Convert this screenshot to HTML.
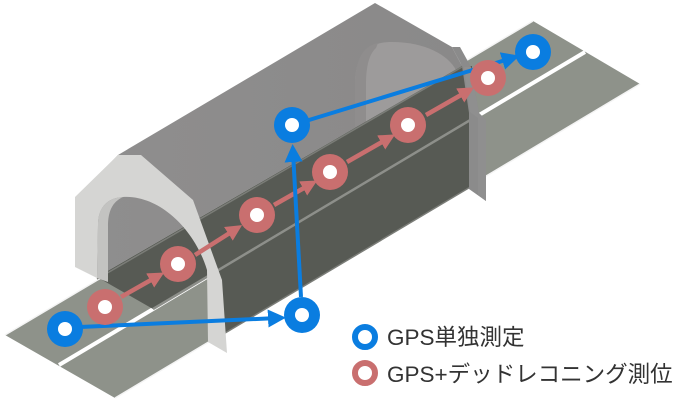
<!DOCTYPE html>
<html><head><meta charset="utf-8"><style>
html,body{margin:0;padding:0;background:#fff;}
svg{display:block;}
text{font-family:"Liberation Sans","Noto Sans CJK JP",sans-serif;}
</style></head><body>
<svg width="690" height="400" viewBox="0 0 690 400" xmlns="http://www.w3.org/2000/svg">
<defs>
<linearGradient id="roof" x1="0" y1="0" x2="1" y2="0">
<stop offset="0" stop-color="#8f8e8e"/><stop offset="1" stop-color="#8a8989"/>
</linearGradient>
<marker id="ar" markerWidth="3.6" markerHeight="3.6" refX="2" refY="1.8" orient="auto" markerUnits="strokeWidth">
<path d="M0,0 L3.6,1.8 L0,3.6 Z" fill="#c96f6f"/></marker>
<marker id="ab" markerWidth="4.5" markerHeight="4.5" refX="2.5" refY="2.25" orient="auto" markerUnits="strokeWidth">
<path d="M0,0 L4.5,2.25 L0,4.5 Z" fill="#0a7de0"/></marker>
</defs>
<rect width="690" height="400" fill="#fff"/>
<!-- road -->
<polygon points="5,335 533,21 640,84 115,398" fill="#8e928a"/>
<line x1="5" y1="335" x2="533" y2="21" stroke="#f4f4f4" stroke-width="1.5"/>
<line x1="115" y1="398" x2="640" y2="84" stroke="#f4f4f4" stroke-width="1.5"/>
<line x1="59" y1="365" x2="585" y2="52" stroke="#fff" stroke-width="4"/>
<!-- roof -->
<polygon points="118,155 375,3 452,47 462,66 97,277 75,200" fill="url(#roof)"/>
<!-- far arch -->
<path d="M355,140 L355,80 C357,50 372,42 392,42 C425,42 448,55 456,70 L462,130 Z" fill="#9d9b9b"/>
<path d="M355,140 L355,80 C357,55 365,46 378,43 L376,48 C368,55 366,70 366,85 L366,135 Z" fill="#8f8d8d"/>
<!-- dark inside road -->
<polygon points="97,277 462,66 472,66 472,186 210,342 210,275 153,309" fill="#575a54"/>
<line x1="153" y1="309" x2="472" y2="119" stroke="#8d8f8a" stroke-width="2.5"/>
<line x1="97" y1="279" x2="462" y2="67" stroke="#7b7d78" stroke-width="1.5"/>
<line x1="210" y1="342" x2="472" y2="186" stroke="#7b7d78" stroke-width="1.5"/>
<!-- right portal slab -->
<polygon points="452,47 460,47 471,67 479,113 486,120 486,201 469,189 469,113 462,66" fill="#8b8b8b"/>
<polygon points="471,67 479,113 486,120 486,201 478,195 478,118 470,112 464,67" fill="#8f8f8f"/>
<!-- left portal -->
<path d="M118,155 L141,155 L193,200 L222,280 L227,353 L208,342 L207,270 C195,230 160,195 123,197 C105,198 98,210 98,225 L97,278 L75,267 L75,197 Z" fill="#d5d5d3"/>
<path d="M98,225 C98,210 105,198 123,197 C112,202 108,212 108,226 L108,282 L97,278 Z" fill="#c3c3c1"/>
<!-- red arrows -->
<g stroke="#c96f6f" stroke-width="4.5" fill="none" marker-end="url(#ar)">
<line x1="121" y1="297" x2="158" y2="276"/>
<line x1="195" y1="255" x2="236" y2="229"/>
<line x1="274" y1="205" x2="311" y2="184"/>
<line x1="347" y1="162" x2="389" y2="138"/>
<line x1="426" y1="115" x2="468" y2="91"/>
</g>
<!-- blue lines -->
<g stroke="#0a7de0" stroke-width="4" fill="none" marker-end="url(#ab)">
<line x1="80" y1="327" x2="278" y2="318"/>
<line x1="301" y1="297" x2="293" y2="152"/>
<line x1="309" y1="120" x2="512" y2="58"/>
</g>
<!-- red markers -->
<g fill="#c96f6f">
<circle cx="105" cy="307" r="18"/><circle cx="178" cy="264" r="18"/><circle cx="257" cy="215" r="18"/>
<circle cx="330" cy="172" r="18"/><circle cx="408" cy="125" r="18"/><circle cx="488" cy="78" r="18"/>
</g>
<g fill="#fff">
<circle cx="105" cy="307" r="7"/><circle cx="178" cy="264" r="7"/><circle cx="257" cy="215" r="7"/>
<circle cx="330" cy="172" r="7"/><circle cx="408" cy="125" r="7"/><circle cx="488" cy="78" r="7"/>
</g>
<!-- blue markers -->
<g fill="#0a7de0">
<circle cx="65" cy="329" r="18"/><circle cx="302" cy="315" r="18"/><circle cx="292" cy="125" r="18"/><circle cx="533" cy="52" r="18"/>
</g>
<g fill="#fff">
<circle cx="65" cy="329" r="7"/><circle cx="302" cy="315" r="7"/><circle cx="292" cy="125" r="7"/><circle cx="533" cy="52" r="7"/>
</g>
<!-- legend -->
<circle cx="365" cy="337" r="10" fill="none" stroke="#0a7de0" stroke-width="6"/>
<circle cx="365" cy="373" r="10" fill="none" stroke="#c96f6f" stroke-width="6"/>
<text x="387" y="345" font-size="22.5" fill="#333">GPS単独測定</text>
<text x="387" y="382" font-size="22.5" fill="#333">GPS+デッドレコニング測位</text>
</svg>
</body></html>
